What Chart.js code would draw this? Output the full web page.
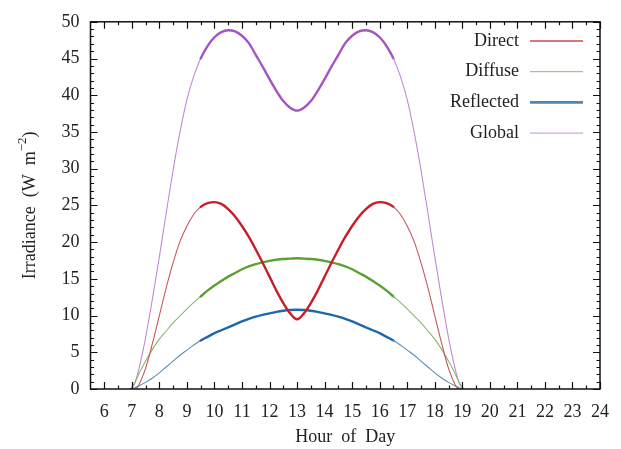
<!DOCTYPE html>
<html><head><meta charset="utf-8">
<script src="https://cdn.jsdelivr.net/npm/chart.js@4.4.0/dist/chart.umd.min.js"></script>
<style>html,body{margin:0;padding:0;background:#fff;}canvas{display:block;}</style>
</head><body>
<canvas id="c" width="621" height="449" style="width:621px;height:449px"></canvas>
<script>
// ---- data ----
const hours = [6.95, 7.1, 7.25, 7.5, 7.75, 8, 8.25, 8.5, 8.75, 9, 9.25, 9.5, 9.75, 10, 10.25, 10.5, 10.75, 11, 11.25, 11.5, 11.75, 12, 12.25, 12.5, 12.75, 13,
  13.25, 13.5, 13.75, 14, 14.25, 14.5, 14.75, 15, 15.25, 15.5, 15.75, 16, 16.25, 16.5, 16.75, 17, 17.25, 17.5, 17.75, 18, 18.25, 18.5, 18.75, 18.9, 19.05];
const directHours = [7.15, 7.25, 7.5, 7.75, 8, 8.25, 8.5, 8.75, 9, 9.25, 9.5, 9.75, 10, 10.25, 10.5, 10.75, 11, 11.25, 11.5, 11.75, 12, 12.25, 12.5, 12.75, 13,
  13.25, 13.5, 13.75, 14, 14.25, 14.5, 14.75, 15, 15.25, 15.5, 15.75, 16, 16.25, 16.5, 16.75, 17, 17.25, 17.5, 17.75, 18, 18.25, 18.5, 18.75, 18.85];
const direct = [0, 0.5, 2.8, 6.2, 10.0, 13.8, 17.2, 20.1, 22.2, 23.8, 24.8, 25.3, 25.45, 25.2, 24.5, 23.5, 22.2, 20.7, 19.0, 17.2, 15.3, 13.4, 11.7, 10.3, 9.5,
  10.3, 11.7, 13.4, 15.3, 17.2, 19.0, 20.7, 22.2, 23.5, 24.5, 25.2, 25.45, 25.3, 24.8, 23.8, 22.2, 20.1, 17.2, 13.8, 10.0, 6.2, 2.8, 0.5, 0];
const diffuse = [0, 0.8, 2.0, 3.8, 5.4, 6.8, 7.9, 9.0, 9.95, 10.9, 11.8, 12.6, 13.4, 14.1, 14.7, 15.3, 15.8, 16.3, 16.7, 17.0, 17.25, 17.45, 17.6, 17.7, 17.75, 17.8,
  17.75, 17.7, 17.6, 17.45, 17.25, 17.0, 16.7, 16.3, 15.8, 15.3, 14.7, 14.1, 13.4, 12.6, 11.8, 10.9, 9.95, 9.0, 7.9, 6.8, 5.4, 3.8, 2.0, 0.8, 0];
const reflected = [0, 0.15, 0.4, 0.9, 1.5, 2.2, 3.0, 3.8, 4.6, 5.3, 6.0, 6.6, 7.1, 7.6, 8.0, 8.4, 8.8, 9.2, 9.55, 9.85, 10.1, 10.3, 10.5, 10.65, 10.75, 10.8,
  10.75, 10.65, 10.5, 10.3, 10.1, 9.85, 9.55, 9.2, 8.8, 8.4, 8.0, 7.6, 7.1, 6.6, 6.0, 5.3, 4.6, 3.8, 3.0, 2.2, 1.5, 0.9, 0.4, 0.15, 0];
const globalIrr = [0, 0.7, 2.6, 7.0, 12.3, 18.0, 24.0, 29.8, 35.0, 39.4, 42.6, 45.0, 46.7, 47.9, 48.6, 48.85, 48.7, 48.1, 47.1, 45.5, 43.9, 42.2, 40.6, 39.2, 38.3, 37.9,
  38.3, 39.2, 40.6, 42.2, 43.9, 45.5, 47.1, 48.1, 48.7, 48.85, 48.6, 47.9, 46.7, 45.0, 42.6, 39.4, 35.0, 29.8, 24.0, 18.0, 12.3, 7.0, 2.6, 0.7, 0];
const hourTicks = [6, 7, 8, 9, 10, 11, 12, 13, 14, 15, 16, 17, 18, 19, 20, 21, 22, 23, 24];
const irrTicks = [0, 5, 10, 15, 20, 25, 30, 35, 40, 45, 50];
const seriesNames = ['Direct', 'Diffuse', 'Reflected', 'Global'];

// ---- styles ----
const thickColors = ['#c91d28', '#5c9f34', '#1e67ab', '#a653c4'];
const thinColors = ['#c6585d', '#86b96f', '#5b8fb3', '#c08ad4'];
const legendColors = ['#d2474d', '#7fc06a', '#4f87b0', '#c48fd8'];
const legendWidths = [1.4, 1.0, 2.6, 1.0];
const FONT = '"Liberation Serif", "DejaVu Serif", serif';

function pts(xs, ys) { return xs.map((x, i) => ({ x: x, y: ys[i] })); }
function mkSet(i, xs, ys) {
  const inMid = c => c.p0.parsed.x >= 9.5 && c.p1.parsed.x <= 16.5;
  return {
    label: seriesNames[i],
    data: pts(xs, ys),
    borderColor: thickColors[i],
    borderWidth: 2.4,
    pointRadius: 0,
    fill: false,
    cubicInterpolationMode: 'monotone',
    borderCapStyle: 'round',
    borderJoinStyle: 'round',
    segment: {
      borderWidth: c => inMid(c) ? 2.4 : 1.1,
      borderColor: c => inMid(c) ? thickColors[i] : thinColors[i]
    }
  };
}

const decor = {
  id: 'decor',
  beforeDraw(chart) {
    const ctx = chart.ctx;
    ctx.save(); ctx.fillStyle = '#fff'; ctx.fillRect(0, 0, chart.width, chart.height); ctx.restore();
  },
  afterDraw(chart) {
    const ctx = chart.ctx, a = chart.chartArea, xs = chart.scales.x, ys = chart.scales.y;
    ctx.save();
    ctx.strokeStyle = '#111'; ctx.lineWidth = 1.2;
    ctx.beginPath();
    for (let v = 6; v <= 24; v += 0.5) {
      const px = Math.round(xs.getPixelForValue(v)) + 0.5;
      const L = Number.isInteger(v) ? 7 : 3.5;
      ctx.moveTo(px, a.bottom); ctx.lineTo(px, a.bottom - L);
      ctx.moveTo(px, a.top); ctx.lineTo(px, a.top + L);
    }
    for (let v = 0; v <= 50; v += 1) {
      const py = Math.round(ys.getPixelForValue(v)) + 0.5;
      const L = v % 5 === 0 ? 7 : 3.5;
      ctx.moveTo(a.left, py); ctx.lineTo(a.left + L, py);
      ctx.moveTo(a.right, py); ctx.lineTo(a.right - L, py);
    }
    ctx.stroke();
    ctx.lineWidth = 1.5;
    ctx.strokeRect(a.left, a.top, a.right - a.left, a.bottom - a.top);
    // legend
    ctx.font = '18px ' + FONT;
    ctx.fillStyle = '#222';
    ctx.textAlign = 'right'; ctx.textBaseline = 'middle';
    chart.data.datasets.forEach((ds, i) => {
      const y = 41 + i * 30.7;
      ctx.fillText(ds.label, 519, y);
      ctx.beginPath();
      ctx.strokeStyle = legendColors[i]; ctx.lineWidth = legendWidths[i];
      ctx.moveTo(530, y); ctx.lineTo(583, y); ctx.stroke();
    });
    // axis titles
    ctx.fillStyle = '#222';
    ctx.textAlign = 'center'; ctx.textBaseline = 'middle';
    ctx.font = '18px ' + FONT;
    ctx.fillText('Hour  of  Day', (a.left + a.right) / 2, 437);
    ctx.translate(30, (a.top + a.bottom) / 2);
    ctx.rotate(-Math.PI / 2);
    const p1 = 'Irradiance  (W  m', p2 = '\u22122', p3 = ')';
    ctx.font = '18px ' + FONT; const w1 = ctx.measureText(p1).width, w3 = ctx.measureText(p3).width;
    ctx.font = '13px ' + FONT; const w2 = ctx.measureText(p2).width;
    let x0 = -(w1 + w2 + w3) / 2;
    ctx.textAlign = 'left';
    ctx.font = '18px ' + FONT; ctx.fillText(p1, x0, 0);
    ctx.font = '13px ' + FONT; ctx.fillText(p2, x0 + w1, -7);
    ctx.font = '18px ' + FONT; ctx.fillText(p3, x0 + w1 + w2, 0);
    ctx.restore();
  }
};

new Chart(document.getElementById('c'), {
  type: 'line',
  data: {
    datasets: [
      mkSet(0, directHours, direct),
      mkSet(1, hours, diffuse),
      mkSet(2, hours, reflected),
      mkSet(3, hours, globalIrr)
    ]
  },
  options: {
    responsive: false,
    animation: false,
    layout: { padding: { left: 0, top: 19, right: 15, bottom: 0 } },
    plugins: { legend: { display: false }, tooltip: { enabled: false } },
    scales: {
      x: {
        type: 'linear', min: 5.5, max: 24,
        afterBuildTicks: s => { s.ticks = hourTicks.map(v => ({ value: v })); },
        afterFit: s => { s.height = 60; },
        grid: { display: false, drawTicks: false },
        border: { display: false },
        ticks: { padding: 12, color: '#222', font: { family: FONT, size: 18 }, maxRotation: 0, autoSkip: false }
      },
      y: {
        type: 'linear', min: 0, max: 50,
        afterBuildTicks: s => { s.ticks = irrTicks.map(v => ({ value: v })); },
        afterFit: s => { s.width = 90.5; },
        grid: { display: false, drawTicks: false },
        border: { display: false },
        ticks: { padding: 11, color: '#222', font: { family: FONT, size: 18 } }
      }
    }
  },
  plugins: [decor]
});
</script>
</body></html>
